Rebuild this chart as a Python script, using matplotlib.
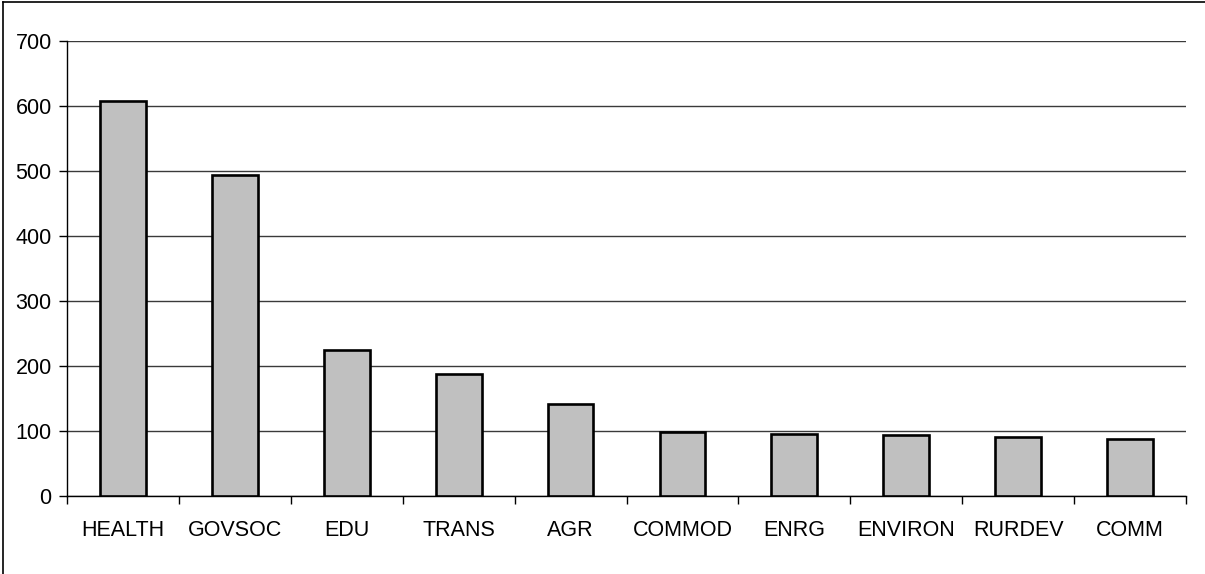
import numpy as np
import matplotlib.pyplot as plt
from matplotlib.lines import Line2D

plt.rcParams["font.family"] = ["Liberation Sans", "DejaVu Sans"]

# sector counts
sectors = ["HEALTH", "GOVSOC", "EDU", "TRANS", "AGR", "COMMOD", "ENRG", "ENVIRON", "RURDEV", "COMM"]
counts = [608, 494, 224, 188, 141, 98, 96, 94, 91, 87]
yticks = [0, 100, 200, 300, 400, 500, 600, 700]

fig = plt.figure(figsize=(12.05, 5.74), dpi=100)
ax = fig.add_axes([67 / 1205, 1 - 496 / 574, (1186 - 67) / 1205, (496 - 41) / 574])

x = np.arange(len(sectors))
ax.bar(x, counts, width=0.41, color="#C0C0C0", edgecolor="black", linewidth=1.9, zorder=3)

ax.set_xlim(-0.5, len(sectors) - 0.5)
ax.set_ylim(0, 700)
ax.set_yticks(yticks)
ax.yaxis.grid(True, color="#3a3a3a", linewidth=1.0, zorder=0)

ax.set_xticks(x)
ax.set_xticklabels(sectors, fontsize=15.5)
ax.set_xticks(np.arange(len(sectors) + 1) - 0.5, minor=True)
ax.tick_params(axis="x", which="major", length=0, pad=17)
ax.tick_params(axis="x", which="minor", length=6, width=1, direction="out")
ax.tick_params(axis="y", labelsize=15.5, length=6, width=1, direction="out", pad=5)

for side in ["top", "right"]:
    ax.spines[side].set_visible(False)
for side in ["left", "bottom"]:
    ax.spines[side].set_linewidth(1.0)
    ax.spines[side].set_color("black")

# outer chart frame (left and top edges)
fig.add_artist(Line2D([3 / 1205, 3 / 1205], [0, 1 - 2 / 574], transform=fig.transFigure, color="black", linewidth=1.2))
fig.add_artist(Line2D([3 / 1205, 1], [1 - 2 / 574, 1 - 2 / 574], transform=fig.transFigure, color="black", linewidth=1.2))

fig.savefig("out.png", dpi=100)
